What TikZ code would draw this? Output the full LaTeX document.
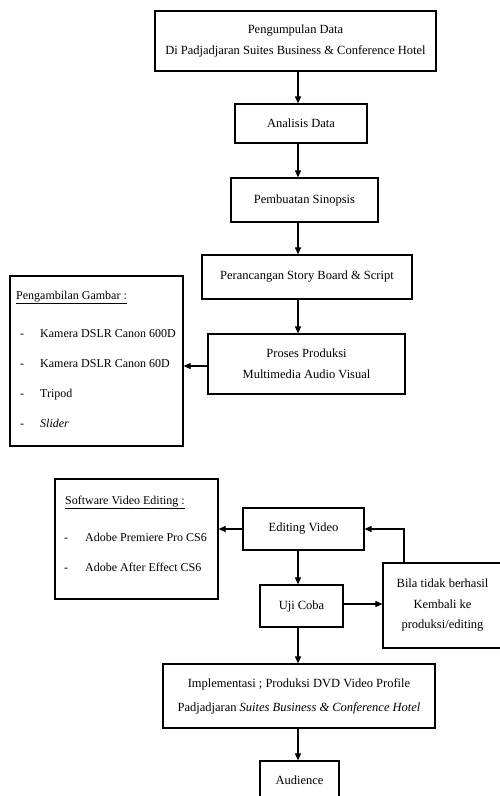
\documentclass[tikz,border=0pt]{standalone}
\usepackage{fontspec}
\setmainfont{Liberation Serif}
\usetikzlibrary{arrows.meta}
\begin{document}
\begin{tikzpicture}[x=1pt,y=-1pt,
  box/.style={draw, line width=1.2pt, inner sep=0pt, align=center,
    font=\fontsize{12.5}{21.5}\selectfont},
  txt/.style={inner sep=0pt, anchor=base west, font=\fontsize{12}{14}\selectfont},
  arr/.style={line width=1.1pt, -{Triangle[length=7pt,width=6pt]}}]
\useasboundingbox (0,0) rectangle (499,796);
\coordinate (col) at (298,0);
% main flow boxes
\node[box, minimum width=281pt, minimum height=60pt] (b1) at (295.5,41)
  {Pengumpulan Data\\Di Padjadjaran Suites Business \& Conference Hotel};
\node[box, minimum width=132pt, minimum height=39pt] (b2) at (301,123.5) {Analisis Data};
\node[box, minimum width=147pt, minimum height=44pt] (b3) at (304.5,200) {Pembuatan Sinopsis};
\node[box, minimum width=210pt, minimum height=44pt] (b4) at (307,277) {Perancangan Story Board \& Script};
\node[box, minimum width=197pt, minimum height=60pt] (b5) at (306.5,364)
  {Proses Produksi\\Multimedia Audio Visual};
% left box: Pengambilan Gambar
\node[box, minimum width=173pt, minimum height=170pt] (cam) at (96.5,361) {};
\node[txt] (camh) at (16,299) {\underline{Pengambilan Gambar :}};
\node[txt] (c1d) at (20,337) {-};
\node[txt] (c1) at (40,337) {Kamera DSLR Canon 600D};
\node[txt] (c2d) at (20,367) {-};
\node[txt] (c2) at (40,367) {Kamera DSLR Canon 60D};
\node[txt] (c3d) at (20,397) {-};
\node[txt] (c3) at (40,397) {Tripod};
\node[txt] (c4d) at (20,427) {-};
\node[txt] (c4) at (40,427) {\textit{Slider}};
% second part
\node[box, minimum width=163pt, minimum height=120pt] (sw) at (136.5,539) {};
\node[txt] (swh) at (65,504) {\underline{Software Video Editing :}};
\node[txt] (s1d) at (64,541) {-};
\node[txt] (s1) at (85,541) {Adobe Premiere Pro CS6};
\node[txt] (s2d) at (64,571) {-};
\node[txt] (s2) at (85,571) {Adobe After Effect CS6};
\node[box, minimum width=121pt, minimum height=42pt] (ed) at (303.5,529) {Editing Video};
\node[box, minimum width=83pt, minimum height=42pt] (uji) at (301.5,606) {Uji Coba};
\node[box, minimum width=119pt, minimum height=85pt, font=\fontsize{12.5}{20.5}\selectfont] (bila) at (442.5,605.5)
  {Bila tidak berhasil\\Kembali ke\\produksi/editing};
\node[box, minimum width=272pt, minimum height=64pt, font=\fontsize{12.5}{24}\selectfont] (imp) at (299,696)
  {Implementasi ; Produksi DVD Video Profile\\Padjadjaran \textit{Suites Business \& Conference Hotel}};
\node[box, minimum width=79pt, minimum height=39pt] (aud) at (299.5,780.5) {Audience};
% connectors
\draw[arr] (b1.south -| col) -- (b2.north -| col);
\draw[arr] (b2.south -| col) -- (b3.north -| col);
\draw[arr] (b3.south -| col) -- (b4.north -| col);
\draw[arr] (b4.south -| col) -- (b5.north -| col);
\coordinate (y1) at (0,366);
\draw[arr] (b5.west |- y1) -- (cam.east |- y1);
\draw[arr] (ed.west) -- (ed.west -| sw.east);
\draw[arr] (ed.south -| col) -- (uji.north -| col);
\coordinate (y2) at (0,604);
\draw[arr] (uji.east |- y2) -- (bila.west |- y2);
\coordinate (fb) at (404,0);
\draw[arr] (bila.north -| fb) -- (fb |- ed.east) -- (ed.east);
\draw[arr] (uji.south -| col) -- (imp.north -| col);
\draw[arr] (imp.south -| col) -- (aud.north -| col);
\end{tikzpicture}
\end{document}
